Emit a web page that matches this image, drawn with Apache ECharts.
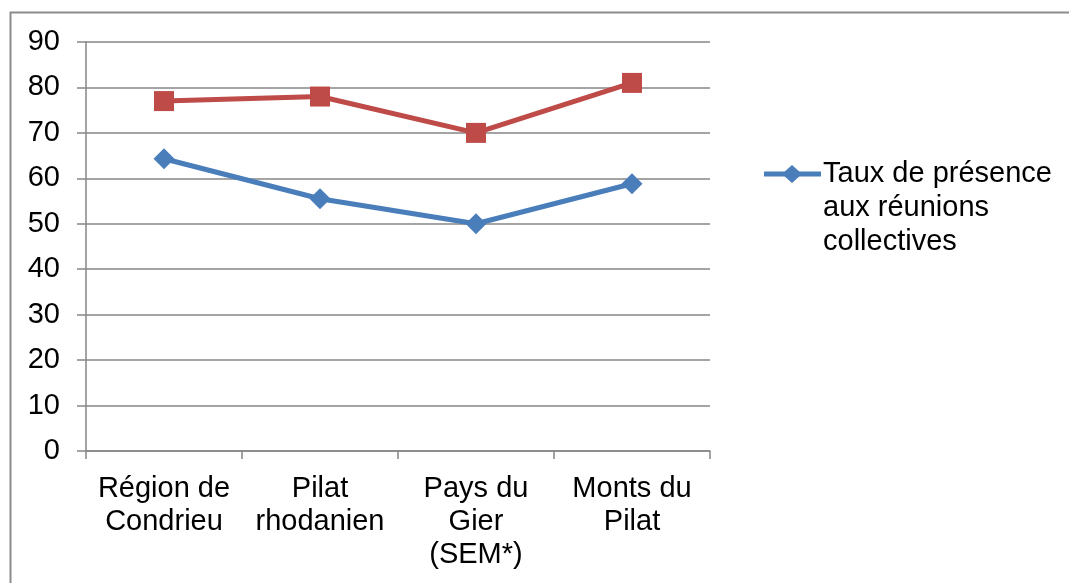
<!DOCTYPE html>
<html>
<head>
<meta charset="utf-8">
<script src="https://cdn.jsdelivr.net/npm/echarts@6/dist/echarts.min.js"></script>
<style>
html,body{margin:0;padding:0;background:#fff;}
#chart{width:1069px;height:583px;}
</style>
</head>
<body>
<div id="chart"></div>
<script>
// Territoires étudiés
const categories = ['Région de\nCondrieu', 'Pilat\nrhodanien', 'Pays du\nGier\n(SEM*)', 'Monts du\nPilat'];
// Taux de présence aux réunions collectives (%)
const presence = [64.3, 55.5, 50.0, 58.8];
// Seconde série (sans entrée de légende)
const secondSeries = [77.0, 78.0, 70.0, 81.0];
const yTicks = { min: 0, max: 90, interval: 10 };
const legendLabel = 'Taux de présence\naux réunions\ncollectives';

const chart = echarts.init(document.getElementById('chart'), null, { renderer: 'canvas' });
const font = 'Liberation Sans, Arial, sans-serif';
const axisGray = '#868686';
const blue = '#4a7ebb';
const red = '#be4b48';

chart.setOption({
  backgroundColor: '#fff',
  animation: false,
  graphic: [
    {
      type: 'rect',
      shape: { x: 10.5, y: 12.5, width: 1080, height: 600 },
      style: { fill: 'none', stroke: '#8c8c8c', lineWidth: 2 },
      silent: true
    },
    // légende : trait + losange + libellé sur trois lignes
    {
      type: 'line',
      shape: { x1: 764, y1: 174, x2: 821, y2: 174 },
      style: { stroke: blue, lineWidth: 5 },
      silent: true
    },
    {
      type: 'polygon',
      shape: { points: [[792, 165], [802, 174], [792, 183], [782, 174]] },
      style: { fill: blue },
      silent: true
    },
    {
      type: 'text',
      left: 823,
      top: 157,
      style: {
        text: legendLabel,
        fontFamily: font,
        fontSize: 29,
        lineHeight: 34,
        fill: '#000'
      },
      silent: true
    }
  ],
  grid: { left: 86, right: 359, top: 42, bottom: 132, containLabel: false },
  xAxis: {
    type: 'category',
    data: categories,
    boundaryGap: true,
    axisLine: { lineStyle: { color: axisGray, width: 1.5 } },
    axisTick: { show: true, length: 8, lineStyle: { color: axisGray, width: 1.5 } },
    axisLabel: { fontFamily: font, fontSize: 29, color: '#000', lineHeight: 33, margin: 21, interval: 0 }
  },
  yAxis: {
    type: 'value',
    min: yTicks.min, max: yTicks.max, interval: yTicks.interval,
    axisLine: { show: true, lineStyle: { color: axisGray, width: 1.5 } },
    axisTick: { show: true, length: 9, lineStyle: { color: axisGray, width: 1.5 } },
    splitLine: { lineStyle: { color: axisGray, width: 1.5 } },
    axisLabel: { fontFamily: font, fontSize: 29, color: '#000', margin: 26 }
  },
  series: [
    {
      name: legendLabel,
      type: 'line',
      data: presence,
      symbol: 'diamond',
      symbolSize: 21,
      lineStyle: { color: blue, width: 5 },
      itemStyle: { color: blue }
    },
    {
      name: 'autre',
      type: 'line',
      data: secondSeries,
      symbol: 'rect',
      symbolSize: 20,
      lineStyle: { color: red, width: 5 },
      itemStyle: { color: red }
    }
  ]
});
</script>
</body>
</html>
